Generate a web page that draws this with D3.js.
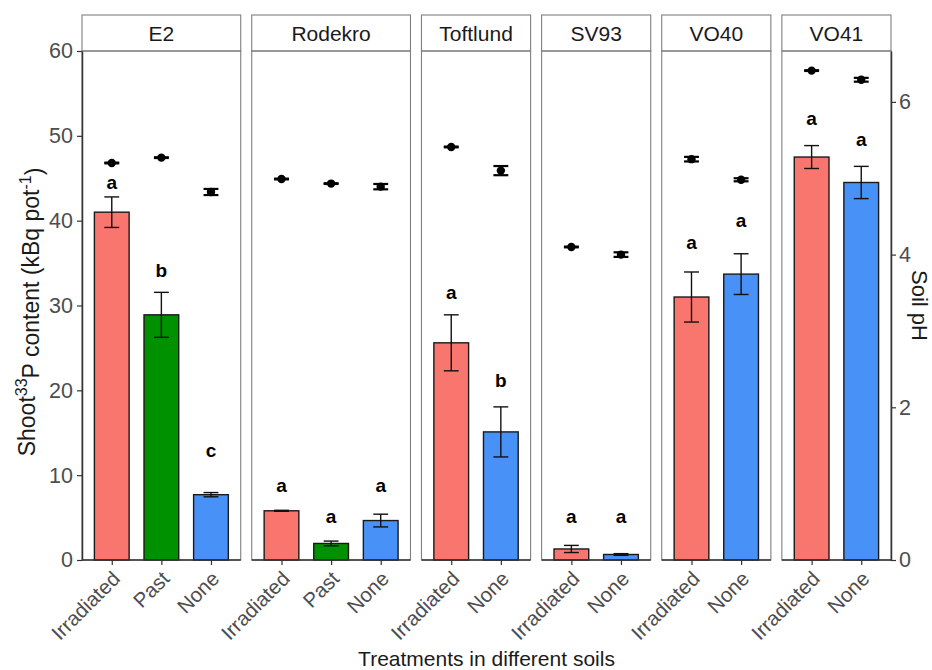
<!DOCTYPE html>
<html>
<head>
<meta charset="utf-8">
<script src="https://cdn.jsdelivr.net/npm/d3@7"></script>
<style>
  body { margin: 0; background: #fff; }
  text { font-family: Arial, "Liberation Sans", sans-serif; }
</style>
</head>
<body>
<script>
// data
const soils = ['E2', 'Rodekro', 'Toftlund', 'SV93', 'VO40', 'VO41']
const treatments = [
  ['Irradiated', 'Past', 'None'],
  ['Irradiated', 'Past', 'None'],
  ['Irradiated', 'None'],
  ['Irradiated', 'None'],
  ['Irradiated', 'None'],
  ['Irradiated', 'None']
]
// shoot 33P content, kBq per pot
const p33Mean = [[41.0, 28.9, 7.7], [5.8, 1.95, 4.65], [25.6, 15.1], [1.3, 0.65], [31.0, 33.7], [47.5, 44.5]]
const p33Se = [[1.8, 2.65, 0.25], [0.06, 0.28, 0.75], [3.3, 2.95], [0.42, 0.1], [2.95, 2.4], [1.35, 1.9]]
const letters = [['a', 'b', 'c'], ['a', 'a', 'a'], ['a', 'b'], ['a', 'a'], ['a', 'a'], ['a', 'a']]
const letterY = [[44.5, 34.1, 12.9], [8.8, 5.1, 8.8], [31.6, 21.2], [5.1, 5.1], [37.5, 40.0], [52.1, 49.6]]
// soil pH
const phMean = [[5.20, 5.27, 4.82], [4.99, 4.93, 4.89], [5.41, 5.10], [4.10, 4.00], [5.25, 4.98], [6.41, 6.29]]
const phSe = [[0.005, 0.005, 0.04], [0.005, 0.005, 0.035], [0.005, 0.06], [0.005, 0.03], [0.03, 0.02], [0.005, 0.025]]
const yTicks = [0, 10, 20, 30, 40, 50, 60]
const phTicks = [0, 2, 4, 6]

const fillColors = { Irradiated: '#F8766D', Past: '#009100', None: '#4891F6' }

let width = 932
let height = 670
let plotTop = 51, plotBottom = 560, plotLeft = 82, plotRight = 891, gap = 11

let svg = d3.select('body').append('svg')
  .attr('width', width)
  .attr('height', height)

let y = d3.scaleLinear().domain([0, 60]).range([plotBottom, plotTop])
// secondary axis: pH = value / 9
let yPh = d3.scaleLinear().domain([0, 60 / 9]).range([plotBottom, plotTop])

// panel widths proportional to number of categories (+0.6 expansion each side)
let units = treatments.map(t => t.length - 1 + 1.2)
let unit = (plotRight - plotLeft - gap * (soils.length - 1)) / d3.sum(units)

let x0 = plotLeft
soils.forEach((soil, i) => {
  let w = units[i] * unit
  let g = svg.append('g').attr('transform', 'translate(' + x0 + ',0)')
  let x = d3.scalePoint().domain(treatments[i]).range([0, w]).padding(0.6)
  let step = x.step()

  // strip
  g.append('rect')
    .attr('x', 0).attr('y', 15).attr('width', w).attr('height', plotTop - 15)
    .attr('fill', '#fff').attr('stroke', '#7f7f7f').attr('stroke-width', 1.1)
  g.append('text')
    .attr('x', w / 2).attr('y', 34).attr('dy', '0.35em')
    .attr('text-anchor', 'middle')
    .attr('font-size', 21).attr('fill', '#1a1a1a')
    .text(soil)

  // panel border
  g.append('rect')
    .attr('x', 0).attr('y', plotTop).attr('width', w).attr('height', plotBottom - plotTop)
    .attr('fill', 'none').attr('stroke', '#7f7f7f').attr('stroke-width', 1.1)

  let rows = treatments[i].map((t, j) => ({
    t: t, m: p33Mean[i][j], se: p33Se[i][j], lab: letters[i][j], ly: letterY[i][j],
    ph: phMean[i][j], phse: phSe[i][j]
  }))

  // bars
  g.selectAll('rect.bar').data(rows).enter().append('rect')
    .attr('class', 'bar')
    .attr('x', d => x(d.t) - step * 0.35)
    .attr('width', step * 0.7)
    .attr('y', d => y(d.m))
    .attr('height', d => plotBottom - y(d.m))
    .attr('fill', d => fillColors[d.t])
    .attr('stroke', '#1a1a1a').attr('stroke-width', 1.4)

  // bar error bars
  let cap = step * 0.15
  let eb = g.selectAll('g.eb').data(rows).enter().append('g').attr('class', 'eb')
    .attr('stroke', '#111').attr('stroke-width', 1.4)
  eb.append('line')
    .attr('x1', d => x(d.t)).attr('x2', d => x(d.t))
    .attr('y1', d => y(d.m + d.se)).attr('y2', d => y(d.m - d.se))
  eb.append('line')
    .attr('x1', d => x(d.t) - cap).attr('x2', d => x(d.t) + cap)
    .attr('y1', d => y(d.m + d.se)).attr('y2', d => y(d.m + d.se))
  eb.append('line')
    .attr('x1', d => x(d.t) - cap).attr('x2', d => x(d.t) + cap)
    .attr('y1', d => y(d.m - d.se)).attr('y2', d => y(d.m - d.se))

  // significance letters
  g.selectAll('text.lab').data(rows).enter().append('text')
    .attr('class', 'lab')
    .attr('x', d => x(d.t)).attr('y', d => y(d.ly)).attr('dy', '0.35em')
    .attr('text-anchor', 'middle')
    .attr('font-size', 19).attr('font-weight', 'bold').attr('fill', '#000')
    .text(d => d.lab)

  // pH points with error bars
  let pcap = step * 0.15
  let pe = g.selectAll('g.ph').data(rows).enter().append('g').attr('class', 'ph')
    .attr('stroke', '#000').attr('stroke-width', 2.2)
  pe.append('line')
    .attr('x1', d => x(d.t)).attr('x2', d => x(d.t))
    .attr('y1', d => yPh(d.ph + d.phse)).attr('y2', d => yPh(d.ph - d.phse))
  pe.append('line')
    .attr('x1', d => x(d.t) - pcap).attr('x2', d => x(d.t) + pcap)
    .attr('y1', d => yPh(d.ph + d.phse)).attr('y2', d => yPh(d.ph + d.phse))
  pe.append('line')
    .attr('x1', d => x(d.t) - pcap).attr('x2', d => x(d.t) + pcap)
    .attr('y1', d => yPh(d.ph - d.phse)).attr('y2', d => yPh(d.ph - d.phse))
  g.selectAll('circle.ph').data(rows).enter().append('circle')
    .attr('cx', d => x(d.t)).attr('cy', d => yPh(d.ph)).attr('r', 4.2)
    .attr('fill', '#000')

  // x axis
  let xa = g.append('g')
    .attr('transform', 'translate(0,' + plotBottom + ')')
    .call(d3.axisBottom(x).tickSize(5).tickSizeOuter(0))
  xa.select('.domain').attr('stroke', '#333').attr('stroke-width', 1.5)
    .attr('d', 'M0,0H' + w)
  xa.selectAll('.tick line').attr('stroke', '#333').attr('stroke-width', 1.2)
  xa.selectAll('.tick text')
    .attr('font-size', 20.5).attr('fill', '#4d4d4d')
    .attr('text-anchor', 'end')
    .attr('dy', null).attr('y', 0)
    .attr('transform', 'translate(9,20) rotate(-45)')

  if (i === 0) {
    let ya = g.append('g').call(d3.axisLeft(y).tickValues(yTicks).tickSize(5).tickSizeOuter(0))
    ya.select('.domain').attr('stroke', '#333').attr('stroke-width', 1.5)
    ya.selectAll('.tick line').attr('stroke', '#333').attr('stroke-width', 1.2)
    ya.selectAll('.tick text').attr('font-size', 21.5).attr('fill', '#4d4d4d').attr('x', -9)
  }
  if (i === soils.length - 1) {
    let yr = g.append('g').attr('transform', 'translate(' + w + ',0)')
      .call(d3.axisRight(yPh).tickValues(phTicks).tickFormat(d3.format('d')).tickSize(5).tickSizeOuter(0))
    yr.select('.domain').attr('stroke', '#333').attr('stroke-width', 1.5)
    yr.selectAll('.tick line').attr('stroke', '#333').attr('stroke-width', 1.2)
    yr.selectAll('.tick text').attr('font-size', 21.5).attr('fill', '#4d4d4d').attr('x', 8)
  }
  x0 += w + gap
})

// axis titles
let ly = svg.append('text')
  .attr('transform', 'translate(27,312) rotate(-90)')
  .attr('text-anchor', 'middle').attr('dy', '0.35em')
  .attr('font-size', 23).attr('fill', '#1a1a1a')
ly.append('tspan').text('Shoot')
ly.append('tspan').attr('font-size', 16).attr('dy', '-0.5em').text('33')
ly.append('tspan').attr('dy', '0.5em').text('P content (kBq pot')
ly.append('tspan').attr('font-size', 16).attr('dy', '-0.5em').text('-1')
ly.append('tspan').attr('dy', '0.5em').text(')')

svg.append('text')
  .attr('transform', 'translate(920,' + (plotTop + plotBottom) / 2 + ') rotate(90)')
  .attr('text-anchor', 'middle').attr('dy', '0.35em')
  .attr('font-size', 22).attr('fill', '#1a1a1a')
  .text('Soil pH')

svg.append('text')
  .attr('x', (plotLeft + plotRight) / 2).attr('y', 659).attr('dy', '0.35em')
  .attr('text-anchor', 'middle')
  .attr('font-size', 21).attr('fill', '#1a1a1a')
  .text('Treatments in different soils')
</script>
</body>
</html>
